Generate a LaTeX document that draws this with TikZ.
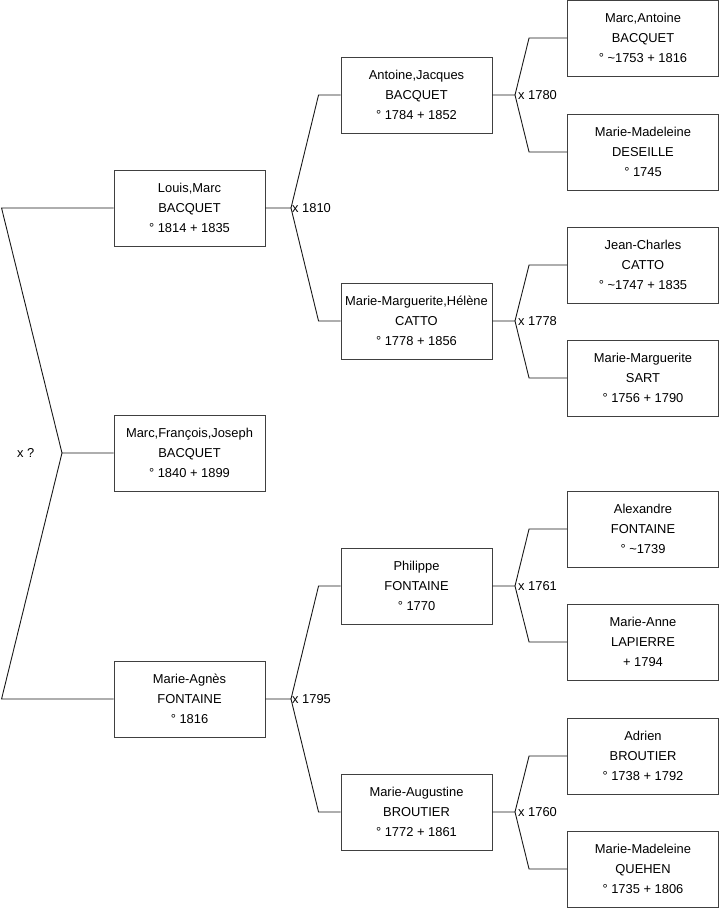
\documentclass[tikz,border=0pt]{standalone}
\usepackage{fontspec}
\setmainfont{Liberation Sans}
\begin{document}
\begin{tikzpicture}[x=1pt,y=-1pt,
  person/.style={draw=black!75, line width=0.9pt, minimum width=151pt, minimum height=76pt,
    inner sep=0pt, align=center, font=\fontsize{12.9}{20}\selectfont, fill=white},
  link/.style={draw=black!90, line width=0.9pt},
  mlabel/.style={anchor=west, inner sep=1pt, font=\fontsize{12.9}{14}\selectfont}]
\useasboundingbox (0,0) rectangle (719,908);
% generation 1
\node[person] (lm) at (189.5,208) {Louis,Marc\\BACQUET\\° 1814 + 1835};
\node[person] (mf) at (189.5,453) {Marc,François,Joseph\\BACQUET\\° 1840 + 1899};
\node[person] (ma) at (189.5,699) {Marie-Agnès\\FONTAINE\\° 1816};
% generation 2
\node[person] (aj) at (416.5,95) {Antoine,Jacques\\BACQUET\\° 1784 + 1852};
\node[person] (mh) at (416.5,321) {Marie-Marguerite,Hélène\\CATTO\\° 1778 + 1856};
\node[person] (pf) at (416.5,586) {Philippe\\FONTAINE\\° 1770};
\node[person] (mb) at (416.5,812) {Marie-Augustine\\BROUTIER\\° 1772 + 1861};
% generation 3
\node[person] (mab) at (643,38) {Marc,Antoine\\BACQUET\\° \textasciitilde1753 + 1816};
\node[person] (mmd) at (643,152) {Marie-Madeleine\\DESEILLE\\° 1745};
\node[person] (jc) at (643,265) {Jean-Charles\\CATTO\\° \textasciitilde1747 + 1835};
\node[person] (ms) at (643,378) {Marie-Marguerite\\SART\\° 1756 + 1790};
\node[person] (af) at (643,529) {Alexandre\\FONTAINE\\° \textasciitilde1739};
\node[person] (al) at (643,642) {Marie-Anne\\LAPIERRE\\+ 1794};
\node[person] (ab) at (643,756) {Adrien\\BROUTIER\\° 1738 + 1792};
\node[person] (mq) at (643,869) {Marie-Madeleine\\QUEHEN\\° 1735 + 1806};
% fork points
\coordinate (r0) at (62,453);
\coordinate (f1) at (291,208);
\coordinate (f2) at (291,699);
\coordinate (g1) at (515,95);
\coordinate (g2) at (515,321);
\coordinate (g3) at (515,586);
\coordinate (g4) at (515,812);
% root
\draw[link] (mf.west) -- (r0) -- ([xshift=-112pt]lm.west) -- (lm.west);
\draw[link] (r0) -- ([xshift=-112pt]ma.west) -- (ma.west);
\node[mlabel] at (16,453) {x ?};
% generation 1 -> 2
\draw[link] (lm.east) -- (f1) -- ([xshift=-22pt]aj.west) -- (aj.west);
\draw[link] (f1) -- ([xshift=-22pt]mh.west) -- (mh.west);
\node[mlabel] at (f1) {x 1810};
\draw[link] (ma.east) -- (f2) -- ([xshift=-22pt]pf.west) -- (pf.west);
\draw[link] (f2) -- ([xshift=-22pt]mb.west) -- (mb.west);
\node[mlabel] at (f2) {x 1795};
% generation 2 -> 3
\draw[link] (aj.east) -- (g1) -- ([xshift=-38pt]mab.west) -- (mab.west);
\draw[link] (g1) -- ([xshift=-38pt]mmd.west) -- (mmd.west);
\node[mlabel] at ([xshift=2pt]g1) {x 1780};
\draw[link] (mh.east) -- (g2) -- ([xshift=-38pt]jc.west) -- (jc.west);
\draw[link] (g2) -- ([xshift=-38pt]ms.west) -- (ms.west);
\node[mlabel] at ([xshift=2pt]g2) {x 1778};
\draw[link] (pf.east) -- (g3) -- ([xshift=-38pt]af.west) -- (af.west);
\draw[link] (g3) -- ([xshift=-38pt]al.west) -- (al.west);
\node[mlabel] at ([xshift=2pt]g3) {x 1761};
\draw[link] (mb.east) -- (g4) -- ([xshift=-38pt]ab.west) -- (ab.west);
\draw[link] (g4) -- ([xshift=-38pt]mq.west) -- (mq.west);
\node[mlabel] at ([xshift=2pt]g4) {x 1760};
\end{tikzpicture}
\end{document}
